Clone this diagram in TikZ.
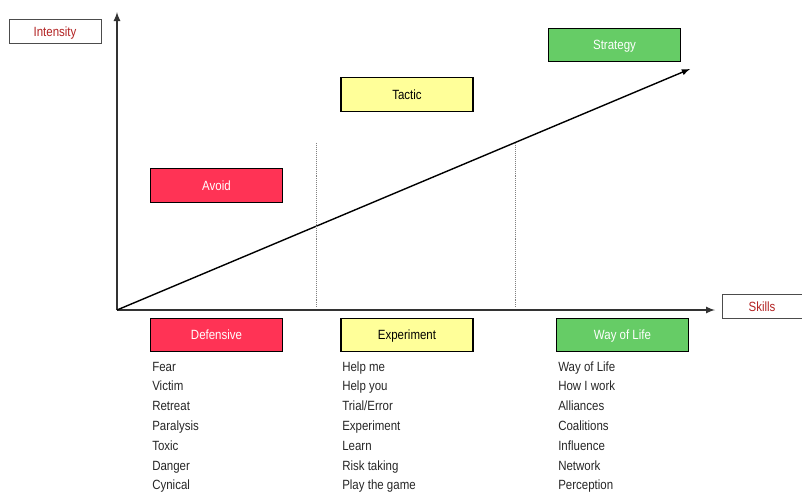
\documentclass[tikz,border=0pt]{standalone}
\usepackage{fontspec}
\setmainfont{Liberation Sans}[FakeStretch=0.86]
\definecolor{avoidred}{HTML}{FF3355}
\definecolor{tacticyellow}{HTML}{FFFF99}
\definecolor{stratgreen}{HTML}{66CC66}
\definecolor{axislabel}{HTML}{B22222}
\tikzset{phase/.style={draw, line width=0.8pt, minimum width=3.3cm, minimum height=0.84cm, inner sep=0pt, text height=6.8pt, text depth=0pt, font=\fontsize{9.5}{11}\selectfont, text=white},
	axisbox/.style={draw=black!70, line width=0.6pt, minimum width=2.3cm, minimum height=0.62cm, inner sep=0pt, text height=6.8pt, text depth=0pt, font=\fontsize{9.5}{11}\selectfont, text=axislabel},
	item/.style={anchor=base west, inner sep=0pt, font=\fontsize{9.5}{11}\selectfont, text=black!85}}
\begin{document}
\begin{tikzpicture}[x=0.025cm, y=-0.025cm, >=latex]
		\useasboundingbox (0,0) rectangle (802,494);
		% axes
		\coordinate (o) at (117,310);
		\coordinate (ytop) at (117,12);
		\coordinate (xend) at (715,310);
		\coordinate (trend) at (690,69);
		\draw[->, line width=1.2pt, black!80] (o) -- (ytop);
		\draw[->, line width=1.2pt, black!80] (o) -- (xend);
		\draw[->, line width=1pt] (o) -- (trend);
		\coordinate (d1t) at (316,143);
		\coordinate (d1b) at (316,308);
		\coordinate (d2t) at (515,143);
		\coordinate (d2b) at (515,308);
		\draw[densely dotted, black!50] (d1t) -- (d1b);
		\draw[densely dotted, black!50] (d2t) -- (d2b);
		% axis labels
		\node[axisbox, minimum width=2.3cm] (intensity) at (55,31.5){Intensity};
		\node[axisbox, minimum width=2cm] (skills) at (762,306.5){Skills};
		% upper boxes
		\node[phase, fill=avoidred] (avoid) at (216.5,185.5){Avoid};
		\node[phase, fill=tacticyellow, text=black] (tactic) at (407,94.5){Tactic};
		\node[phase, fill=stratgreen] (strategy) at (614.5,45){Strategy};
		% lower boxes
		\node[phase, fill=avoidred] (defensive) at (216.5,335){Defensive};
		\node[phase, fill=tacticyellow, text=black] (experiment) at (407,335){Experiment};
		\node[phase, fill=stratgreen] (wayoflife) at (622.5,335){Way of Life};
		% lists
		\foreach \t [count=\i from 0] in {Fear,Victim,Retreat,Paralysis,Toxic,Danger,Cynical}
			\node[item] (def\i) at (152,371+19.8*\i){\t};
		\foreach \t [count=\i from 0] in {Help me,Help you,Trial/Error,Experiment,Learn,Risk taking,Play the game}
			\node[item] (exp\i) at (342,371+19.8*\i){\t};
		\foreach \t [count=\i from 0] in {Way of Life,How I work,Alliances,Coalitions,Influence,Network,Perception}
			\node[item] (way\i) at (558,371+19.8*\i){\t};
		\end{tikzpicture}
\end{document}
